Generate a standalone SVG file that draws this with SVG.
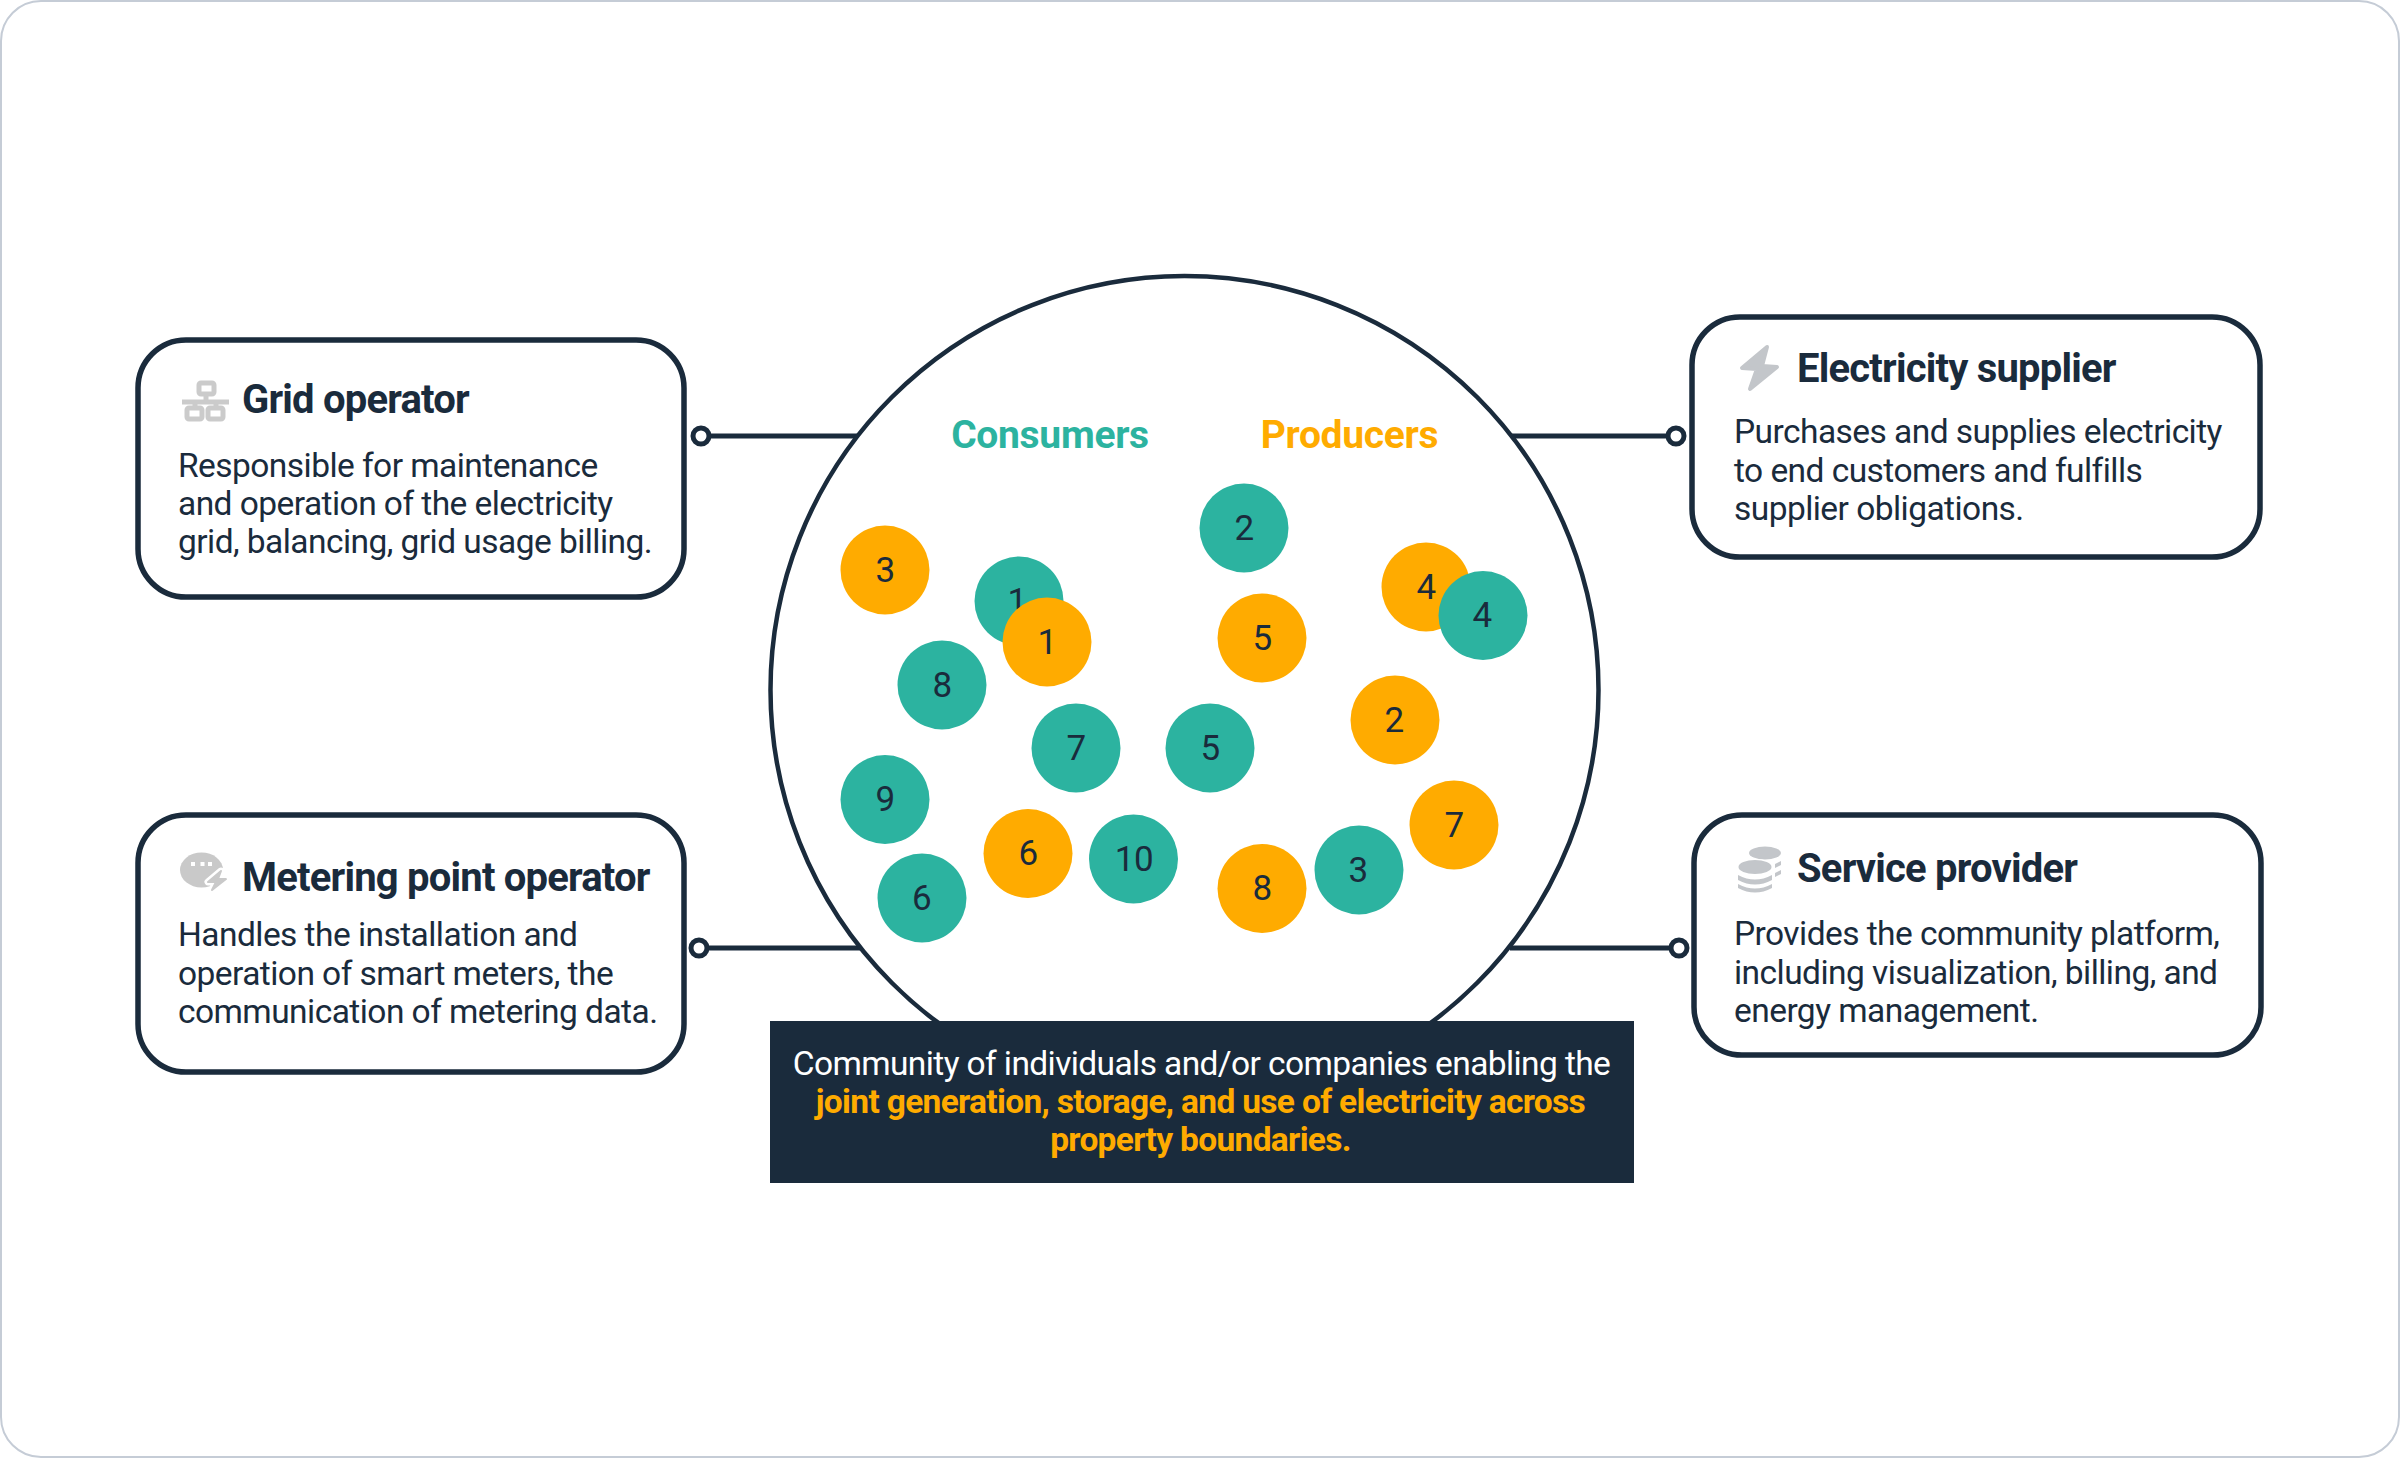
<svg xmlns="http://www.w3.org/2000/svg" width="2400" height="1458" viewBox="0 0 2400 1458">
<style>
text{font-family:Roboto,"Liberation Sans",sans-serif;fill:#1a2b3c}
.box{fill:#fff;stroke:#1a2b3c;stroke-width:5.500}
.title{font-size:40px;font-weight:700;letter-spacing:-.8px}
.body{font-size:33.500px;letter-spacing:-.55px}
.cap{font-size:33.500px;letter-spacing:-.6px;text-anchor:middle}
.capb{font-weight:700;letter-spacing:-.68px}
.num{font-size:35px;text-anchor:middle;letter-spacing:-.5px}
.t{fill:#2cb3a0}
.o{fill:#ffab00}
.lbl{font-size:39px;font-weight:700;text-anchor:middle;letter-spacing:-.3px}
.con{fill:none;stroke:#1a2b3c;stroke-width:5}
.dot{fill:#fff;stroke:#1a2b3c;stroke-width:5}
.ig{fill:none;stroke:#cbcbcb;stroke-width:5}
.ic{fill:#c3c6ca}
</style>
<rect id="frame" x="1" y="1" width="2398" height="1456" rx="40" fill="#fff" stroke="#c5ccd6" stroke-width="2"/>
<g id="connectors">
<path class="con" d="M858 436H709"/><path class="con" d="M860 948H707"/>
<path class="con" d="M1512 436H1667"/><path class="con" d="M1510 948H1671"/>
<circle class="dot" cx="701" cy="436" r="8"/><circle class="dot" cx="699" cy="948" r="8"/>
<circle class="dot" cx="1676" cy="436" r="8"/><circle class="dot" cx="1679" cy="948" r="8"/>
</g>
<g id="community">
<circle cx="1184.500" cy="690" r="414" fill="none" stroke="#1a2b3c" stroke-width="4.500"/>
<text class="lbl t" x="1050" y="448">Consumers</text>
<text class="lbl o" x="1349.500" y="448">Producers</text>
</g>
<g id="members">
<g id="p3"><circle class="o" cx="885" cy="570" r="44.500"/><text class="num" x="885" y="582">3</text></g>
<g id="c1"><circle class="t" cx="1019" cy="601" r="44.500"/><text class="num" x="1017" y="613">1</text></g>
<g id="p1"><circle class="o" cx="1047" cy="642" r="44.500"/><text class="num" x="1047" y="654">1</text></g>
<g id="c2"><circle class="t" cx="1244" cy="528" r="44.500"/><text class="num" x="1244" y="540">2</text></g>
<g id="p5"><circle class="o" cx="1262" cy="638" r="44.500"/><text class="num" x="1262" y="650">5</text></g>
<g id="p4"><circle class="o" cx="1426" cy="587" r="44.500"/><text class="num" x="1426" y="599">4</text></g>
<g id="c4"><circle class="t" cx="1483" cy="615.500" r="44.500"/><text class="num" x="1482" y="627">4</text></g>
<g id="c8"><circle class="t" cx="942" cy="685" r="44.500"/><text class="num" x="942" y="697">8</text></g>
<g id="c7"><circle class="t" cx="1076" cy="748" r="44.500"/><text class="num" x="1076" y="760">7</text></g>
<g id="c5"><circle class="t" cx="1210" cy="748" r="44.500"/><text class="num" x="1210" y="760">5</text></g>
<g id="p2"><circle class="o" cx="1395" cy="720" r="44.500"/><text class="num" x="1394" y="732">2</text></g>
<g id="c9"><circle class="t" cx="885" cy="799.500" r="44.500"/><text class="num" x="885" y="811">9</text></g>
<g id="p6"><circle class="o" cx="1028" cy="853.500" r="44.500"/><text class="num" x="1028" y="865">6</text></g>
<g id="c10"><circle class="t" cx="1133.500" cy="859" r="44.500"/><text class="num" x="1134" y="871">10</text></g>
<g id="p7"><circle class="o" cx="1454" cy="825" r="44.500"/><text class="num" x="1454" y="837">7</text></g>
<g id="c3"><circle class="t" cx="1359" cy="870" r="44.500"/><text class="num" x="1358" y="882">3</text></g>
<g id="p8"><circle class="o" cx="1262" cy="888.500" r="44.500"/><text class="num" x="1262" y="900">8</text></g>
<g id="c6"><circle class="t" cx="922" cy="898" r="44.500"/><text class="num" x="921.500" y="910">6</text></g>
</g>
<g id="caption">
<rect x="770" y="1021" width="864" height="162" fill="#1a2b3c"/>
<text class="cap" x="1201.500" y="1075" style="fill:#fff">Community of individuals and/or companies enabling the</text>
<text class="cap capb o" x="1200.500" y="1113">joint generation, storage, and use of electricity across</text>
<text class="cap capb o" x="1200.500" y="1151">property boundaries.</text>
</g>
<g id="grid-operator">
<rect class="box" x="138" y="340" width="546" height="257" rx="48"/>
<g class="ig"><rect x="199" y="383" width="15" height="11" rx="2"/><path d="M182 402H229M206 394V402M195 402V408M216 402V408"/><rect x="187" y="408" width="15" height="11" rx="2"/><rect x="208" y="408" width="15" height="11" rx="2"/></g>
<text class="title" x="242" y="413">Grid operator</text>
<text class="body" x="178" y="477">Responsible for maintenance</text>
<text class="body" x="178" y="515">and operation of the electricity</text>
<text class="body" x="178" y="553">grid, balancing, grid usage billing.</text>
</g>
<g id="metering-point-operator">
<rect class="box" x="138" y="815" width="546" height="257" rx="48"/>
<ellipse cx="201.500" cy="870" rx="21.500" ry="17.500" fill="#c9c9c9"/>
<path d="M221 871L208 882H216L212 890L226 879H218Z" fill="#fff" stroke="#fff" stroke-width="7" stroke-linejoin="round"/>
<path d="M221 871L208 882H216L212 890L226 879H218Z" fill="#c9c9c9" stroke="#c9c9c9" stroke-width="2" stroke-linejoin="round"/>
<path d="M193 862v4M202.500 862v4M210 862v4" stroke="#fff" stroke-width="4" fill="none"/>
<text class="title" x="242" y="891">Metering point operator</text>
<text class="body" x="178" y="946">Handles the installation and</text>
<text class="body" x="178" y="985">operation of smart meters, the</text>
<text class="body" x="178" y="1023">communication of metering data.</text>
</g>
<g id="electricity-supplier">
<rect class="box" x="1692" y="317" width="568" height="240" rx="48"/>
<path class="ic" d="M1767 347L1742 368L1757 369L1750 389L1777 367L1762 366Z" stroke="#c3c6ca" stroke-width="4" stroke-linejoin="round"/>
<text class="title" x="1797" y="382">Electricity supplier</text>
<text class="body" x="1734" y="443">Purchases and supplies electricity</text>
<text class="body" x="1734" y="482">to end customers and fulfills</text>
<text class="body" x="1734" y="520">supplier obligations.</text>
</g>
<g id="service-provider">
<rect class="box" x="1694" y="815" width="567" height="240" rx="48"/>
<ellipse class="ic" cx="1765" cy="853" rx="16" ry="6.500"/>
<ellipse cx="1755" cy="867" rx="18.500" ry="8" fill="#fff"/>
<ellipse class="ic" cx="1755" cy="867" rx="16.500" ry="7"/>
<path class="ic" d="M1738 875Q1755 884 1772 875V880Q1755 889 1738 880Z"/>
<path class="ic" d="M1738 884Q1755 893 1772 884V888Q1755 897 1738 888Z"/>
<path class="ic" d="M1775 864L1781 861V865L1775 868ZM1775 873L1781 870V874L1775 877Z"/>
<text class="title" x="1797" y="882">Service provider</text>
<text class="body" x="1734" y="945">Provides the community platform,</text>
<text class="body" x="1734" y="984">including visualization, billing, and</text>
<text class="body" x="1734" y="1022">energy management.</text>
</g>
</svg>
